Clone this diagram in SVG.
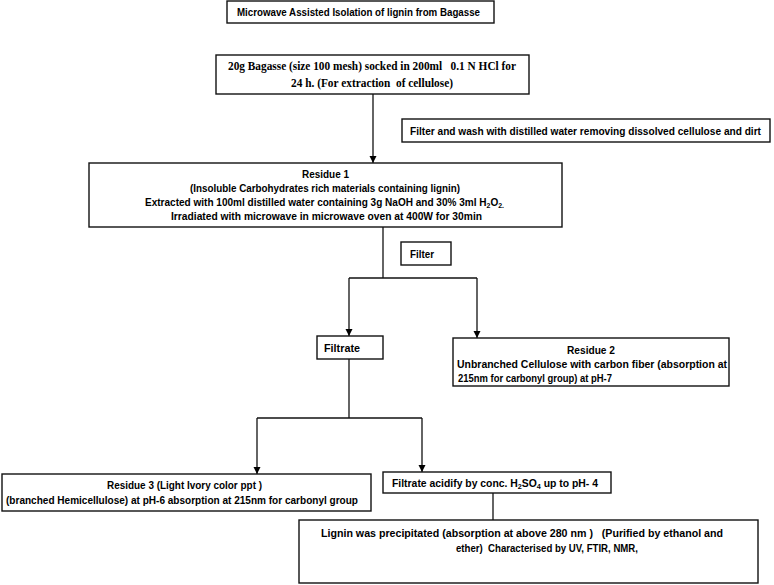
<svg xmlns="http://www.w3.org/2000/svg" width="774" height="585" viewBox="0 0 774 585">
<defs>
<marker id="arr" markerWidth="8" markerHeight="8" refX="7" refY="4" orient="auto" markerUnits="userSpaceOnUse">
<path d="M0,0.5 L7,4 L0,7.5 Z" fill="#000"/>
</marker>
<style>
.box{fill:#fff;stroke:#111;stroke-width:1.4}
.t{font-family:"Liberation Sans",Arial,sans-serif;font-weight:bold;font-size:11.5px;fill:#000}
.s{font-family:"Liberation Serif","Times New Roman",serif;font-weight:bold;font-size:12.5px;fill:#000}
.c{fill:none;stroke:#111;stroke-width:1.3}
.sub{font-size:8px}
</style>
</defs>
<rect width="774" height="585" fill="#fff"/>
<g id="connectors">
<path class="c" d="M373,94 V163" marker-end="url(#arr)"/>
<path class="c" d="M383,227 V278"/>
<path class="c" d="M349,278 H477"/>
<path class="c" d="M349,278 V336" marker-end="url(#arr)"/>
<path class="c" d="M477,278 V338" marker-end="url(#arr)"/>
<path class="c" d="M349,359 V418"/>
<path class="c" d="M257,418 H422"/>
<path class="c" d="M257,418 V474" marker-end="url(#arr)"/>
<path class="c" d="M422,418 V472" marker-end="url(#arr)"/>
<path class="c" d="M493,493 V520"/>
</g>
<g id="title">
<rect class="box" x="227" y="1" width="267" height="22"/>
<text class="t" x="237" y="16" textLength="243" lengthAdjust="spacingAndGlyphs">Microwave  Assisted Isolation of lignin from Bagasse</text>
</g>
<g id="bagasse">
<rect class="box" x="216" y="55" width="313" height="39"/>
<text class="s" x="228" y="70" textLength="288" lengthAdjust="spacingAndGlyphs" xml:space="preserve">20g Bagasse (size 100 mesh) socked in 200ml   0.1 N HCl for</text>
<text class="s" x="291" y="87" textLength="162" lengthAdjust="spacingAndGlyphs" xml:space="preserve">24 h. (For extraction  of cellulose)</text>
</g>
<g id="filterwash">
<rect class="box" x="402" y="119" width="368" height="23"/>
<text class="t" x="410" y="135" textLength="351" lengthAdjust="spacingAndGlyphs">Filter and wash with distilled water removing dissolved cellulose and dirt</text>
</g>
<g id="residue1">
<rect class="box" x="89" y="163" width="473" height="64"/>
<text class="t" x="302" y="178" textLength="47" lengthAdjust="spacingAndGlyphs">Residue 1</text>
<text class="t" x="190" y="192" textLength="270" lengthAdjust="spacingAndGlyphs">(Insoluble Carbohydrates rich materials containing lignin)</text>
<text class="t" x="145" y="206" textLength="359" lengthAdjust="spacingAndGlyphs">Extracted with 100ml distilled water containing 3g NaOH and 30% 3ml H<tspan class="sub" dy="2">2</tspan><tspan dy="-2">O</tspan><tspan class="sub" dy="2">2.</tspan></text>
<text class="t" x="171" y="220" textLength="311" lengthAdjust="spacingAndGlyphs">Irradiated with microwave in microwave oven at 400W for 30min</text>
</g>
<g id="filter">
<rect class="box" x="401" y="242" width="50" height="23"/>
<text class="t" x="410" y="258" textLength="24" lengthAdjust="spacingAndGlyphs">Filter</text>
</g>
<g id="residue2">
<rect class="box" x="453" y="338" width="276" height="48"/>
<text class="t" x="567" y="354" textLength="48" lengthAdjust="spacingAndGlyphs">Residue 2</text>
<text class="t" x="457" y="368" textLength="270" lengthAdjust="spacingAndGlyphs">Unbranched Cellulose with carbon fiber (absorption at</text>
<text class="t" x="458" y="382" textLength="154" lengthAdjust="spacingAndGlyphs">215nm for carbonyl group) at pH-7</text>
</g>
<g id="filtrate">
<rect class="box" x="317" y="336" width="66" height="23"/>
<text class="t" x="324" y="352" textLength="36" lengthAdjust="spacingAndGlyphs">Filtrate</text>
</g>
<g id="residue3">
<rect class="box" x="2" y="474" width="369" height="37"/>
<text class="t" x="107" y="489" textLength="155" lengthAdjust="spacingAndGlyphs">Residue 3 (Light Ivory color ppt )</text>
<text class="t" x="6" y="504" textLength="352" lengthAdjust="spacingAndGlyphs">(branched Hemicellulose) at pH-6 absorption at 215nm for carbonyl group</text>
</g>
<g id="acidify">
<rect class="box" x="383" y="472" width="228" height="21"/>
<text class="t" x="392" y="487" textLength="206" lengthAdjust="spacingAndGlyphs">Filtrate acidify by conc. H<tspan class="sub" dy="2">2</tspan><tspan dy="-2">SO</tspan><tspan class="sub" dy="2">4</tspan><tspan dy="-2"> up to pH- 4</tspan></text>
</g>
<g id="lignin">
<rect class="box" x="299" y="520" width="459" height="63"/>
<text class="t" x="321" y="537" textLength="402" lengthAdjust="spacingAndGlyphs" xml:space="preserve">Lignin was precipitated (absorption at above 280 nm )   (Purified by ethanol and</text>
<text class="t" x="456" y="552" textLength="182" lengthAdjust="spacingAndGlyphs" xml:space="preserve">ether)  Characterised by UV, FTIR, NMR,</text>
</g>
</svg>
